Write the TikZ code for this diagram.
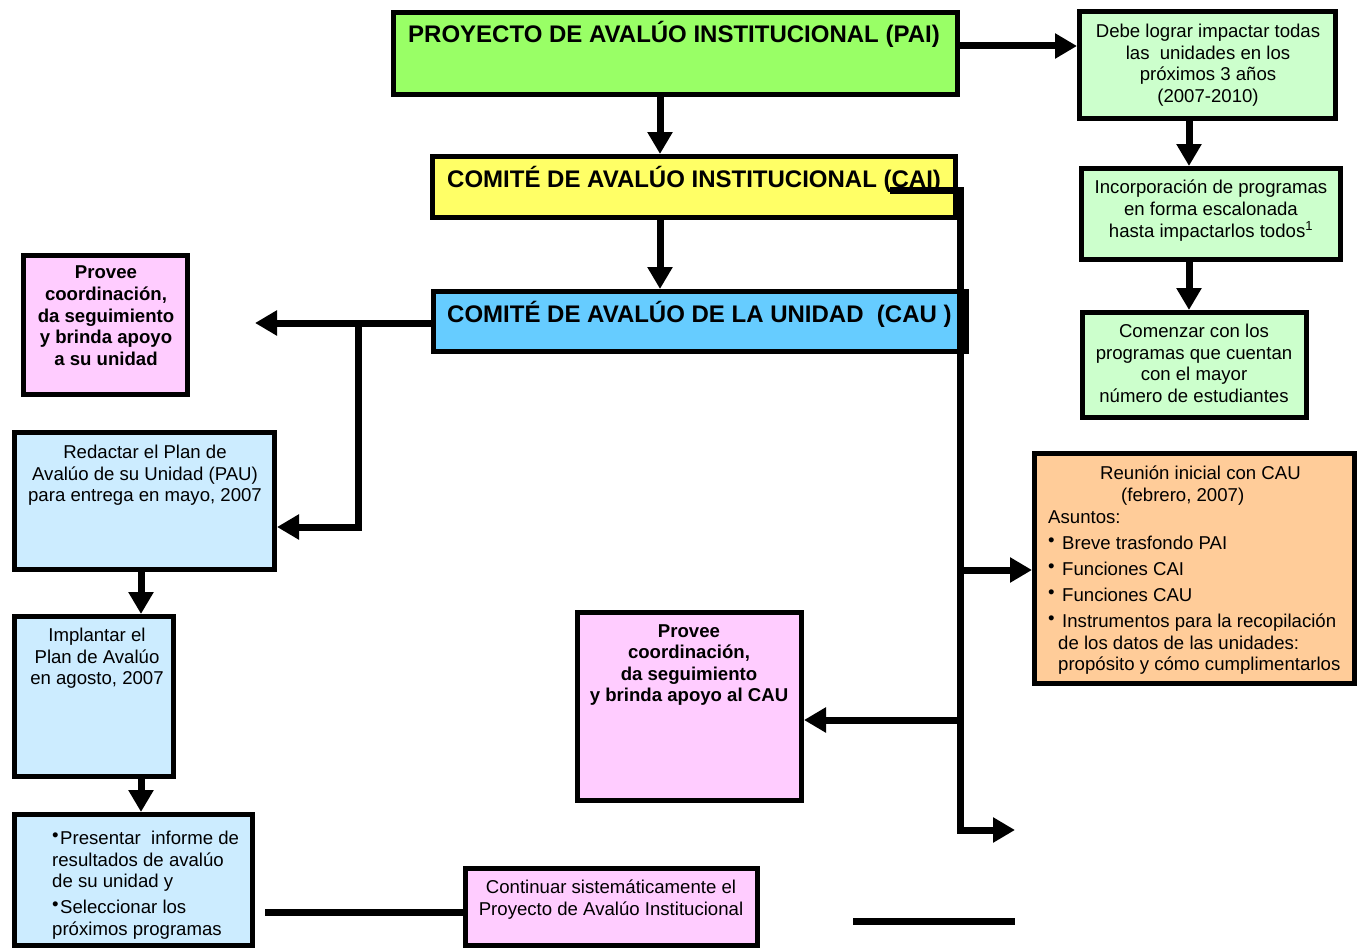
\documentclass[tikz,border=0pt]{standalone}
\usepackage{fontspec}
\setmainfont{Liberation Sans}
\usetikzlibrary{arrows.meta}
\definecolor{cPAI}{HTML}{99FF66}
\definecolor{cCAI}{HTML}{FFFF66}
\definecolor{cCAU}{HTML}{66CCFF}
\definecolor{cGreen}{HTML}{CCFFCC}
\definecolor{cPink}{HTML}{FFCCFF}
\definecolor{cLBlue}{HTML}{CCECFF}
\definecolor{cOrange}{HTML}{FFCC99}
\newcommand\rbul{\makebox[14pt][l]{\raisebox{3pt}{\fontsize{18.6}{18.6}\selectfont •}}}
\newcommand\pbul{\makebox[8pt][l]{\raisebox{3pt}{\fontsize{18.6}{18.6}\selectfont •}}}
\begin{document}
\begin{tikzpicture}[x=1pt,y=-1pt,
  box/.style={draw=black, line width=5pt, anchor=north west, inner sep=0pt, rectangle},
  txt/.style={inner sep=0pt, align=center, anchor=north, font=\fontsize{18.6}{21.6}\selectfont},
  ttl/.style={inner sep=0pt, anchor=base west, font=\bfseries\fontsize{24}{28}\selectfont},
  conn/.style={line width=7pt},
  arr/.style={conn, -{Triangle[length=22pt,width=24pt]}}]
\useasboundingbox[fill=white] (0,0) rectangle (1361,950);

% boxes
\node[box, fill=cPAI, minimum width=564pt, minimum height=82pt] (pai) at (391,10) {};
\node[box, fill=cCAI, minimum width=523pt, minimum height=61pt] (cai) at (430,154) {};
\node[box, fill=cCAU, minimum width=533pt, minimum height=60pt] (cau) at (431,289) {};
\node[box, fill=cGreen, minimum width=256pt, minimum height=107pt] (debe) at (1077,9) {};
\node[box, fill=cGreen, minimum width=259pt, minimum height=91pt] (inc) at (1079,166) {};
\node[box, fill=cGreen, minimum width=224pt, minimum height=105pt] (com) at (1080,310) {};
\node[box, fill=cPink, minimum width=164pt, minimum height=139pt] (prov1) at (21,253) {};
\node[box, fill=cLBlue, minimum width=260pt, minimum height=137pt] (red) at (12,430) {};
\node[box, fill=cLBlue, minimum width=159pt, minimum height=160pt] (imp) at (12,614) {};
\node[box, fill=cLBlue, minimum width=238pt, minimum height=131pt] (pres) at (12,812) {};
\node[box, fill=cPink, minimum width=292pt, minimum height=77pt] (cont) at (463,866) {};
\node[box, fill=cPink, minimum width=224pt, minimum height=188pt] (prov2) at (575,610) {};
\node[box, fill=cOrange, minimum width=320pt, minimum height=230pt] (reu) at (1032,451) {};

% texts
\node[ttl] (paiT) at (408,42.5) {PROYECTO DE AVALÚO INSTITUCIONAL (PAI)};
\node[ttl] (caiT) at (447,187.5) {COMITÉ DE AVALÚO INSTITUCIONAL (CAI)};
\node[ttl] (cauT) at (447,322.5) {COMITÉ DE AVALÚO DE LA UNIDAD\ \ (CAU\ )};
\node[txt] (debeT) at (1208,24) {Debe lograr impactar todas\\las\ \ unidades en los\\próximos 3 años\\(2007-2010)};
\node[txt] (incT) at (1211,180) {Incorporación de programas\\en forma escalonada\\hasta impactarlos todos\textsuperscript{1}};
\node[txt] (comT) at (1194,324) {Comenzar con los\\programas que cuentan\\con el mayor\\número de estudiantes};
\node[txt, font=\bfseries\fontsize{18.6}{21.6}\selectfont] (prov1T) at (106,266) {Provee\\coordinación,\\da seguimiento\\y brinda apoyo\\a su unidad};
\node[txt] (redT) at (145,445) {Redactar el Plan de\\Avalúo de su Unidad (PAU)\\para entrega en mayo, 2007};
\node[txt] (impT) at (97,628) {Implantar el\\Plan de Avalúo\\en agosto, 2007};
\node[txt, anchor=north west, align=left] (presT) at (52,831) {\pbul Presentar\ \ informe de\\resultados de avalúo\\de su unidad y\\[4pt]\pbul Seleccionar los\\próximos programas};
\node[txt] (contT) at (611,880) {Continuar sistemáticamente el\\Proyecto de Avalúo Institucional};
\node[txt, font=\bfseries\fontsize{18.6}{21.6}\selectfont] (prov2T) at (689,624) {Provee\\coordinación,\\da seguimiento\\y brinda apoyo al CAU};
\node[txt, anchor=north west, align=left] (reuT) at (1048,466) {\hspace*{52pt}Reunión inicial con CAU\\\hspace*{73pt}(febrero, 2007)\\Asuntos:\\[4.5pt]\rbul Breve trasfondo PAI\\[4.5pt]\rbul Funciones CAI\\[4.5pt]\rbul Funciones CAU\\[4.5pt]\rbul Instrumentos para la recopilación\\\hspace*{10pt}de los datos de las unidades:\\\hspace*{10pt}propósito y cómo cumplimentarlos};

% connectors
\coordinate (a1) at (660,0);
\coordinate (y46) at (0,46);
\coordinate (r1) at (1189,0);
\coordinate (v1) at (141,0);
\draw[arr] (pai.east |- y46) -- (debe.west |- y46);
\draw[arr] (a1 |- pai.south) -- (a1 |- cai.north);
\draw[arr] (a1 |- cai.south) -- (a1 |- cau.north);
\draw[arr] (r1 |- debe.south) -- (r1 |- inc.north);
\draw[arr] (r1 |- inc.south) -- (r1 |- com.north);

\coordinate (k0) at (890,190);
\coordinate (k1) at (960,190);
\coordinate (k2) at (960,830);
\coordinate (k3) at (1015,830);
\coordinate (k4) at (960,570);
\coordinate (k5) at (960,720);
\draw[arr] (k0) -- (k1) -- (k2) -- (k3);
\draw[arr] (k4) -- (reu.west |- k4);
\draw[arr] (k5) -- (prov2.east |- k5);

\coordinate (m0) at (255,323);
\coordinate (m1) at (358,323);
\coordinate (m2) at (358,527);
\draw[arr] (cau.west |- m1) -- (m0);
\draw[arr] (m1) -- (m2) -- (red.east |- m2);

\draw[arr] (v1 |- red.south) -- (v1 |- imp.north);
\draw[arr] (v1 |- imp.south) -- (v1 |- pres.north);

\coordinate (b0) at (265,912);
\draw[conn] (b0) -- (cont.west |- b0);
\coordinate (b1) at (853,921);
\coordinate (b2) at (1015,921);
\draw[conn] (b1) -- (b2);
\end{tikzpicture}
\end{document}
